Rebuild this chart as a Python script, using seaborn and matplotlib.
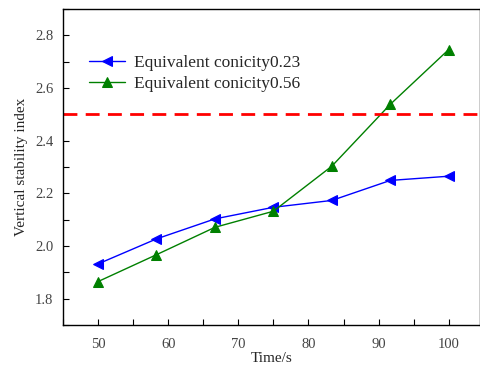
import matplotlib
matplotlib.use("Agg")
import matplotlib.pyplot as plt
import seaborn as sns
import pandas as pd
from matplotlib.ticker import MultipleLocator

time_s = [50, 58.33, 66.67, 75, 83.33, 91.67, 100]
conicity_023 = [1.932, 2.027, 2.103, 2.147, 2.173, 2.249, 2.265]
conicity_056 = [1.865, 1.967, 2.071, 2.132, 2.303, 2.538, 2.746]
labels = ["Equivalent conicity0.23", "Equivalent conicity0.56"]
threshold = 2.5

sns.set_theme(style="ticks")
plt.rcParams['font.family'] = ['Liberation Serif', 'DejaVu Serif']

fig = plt.figure(figsize=(4.81, 3.70), dpi=100)
ax = fig.add_axes([0.131, 0.1216, 0.866, 0.8541])

df1 = pd.DataFrame({"t": time_s, "v": conicity_023})
df2 = pd.DataFrame({"t": time_s, "v": conicity_056})
sns.lineplot(data=df1, x="t", y="v", ax=ax, color="#0000ff", marker="<",
             markersize=7, markeredgecolor="#0000ff", linewidth=1.0, label=labels[0])
sns.lineplot(data=df2, x="t", y="v", ax=ax, color="#008000", marker="^",
             markersize=6.5, markeredgecolor="#008000", linewidth=1.0, label=labels[1])
ax.axhline(threshold, color="#ff0000", linestyle=(0, (5, 3)), linewidth=2.0)

ax.set_xlim(45, 104.4)
ax.set_ylim(1.7, 2.9)
ax.xaxis.set_major_locator(MultipleLocator(10))
ax.xaxis.set_minor_locator(MultipleLocator(5))
ax.yaxis.set_major_locator(MultipleLocator(0.2))
ax.yaxis.set_minor_locator(MultipleLocator(0.1))
ax.tick_params(which="both", direction="in", length=4, width=0.8, labelsize=10.5,
               colors="black", labelcolor="#444444")
ax.tick_params(axis="x", which="both", pad=9)
ax.tick_params(axis="y", which="both", pad=7)
ax.tick_params(axis="both", which="both", top=False, right=False)
for s in ax.spines.values():
    s.set_linewidth(1.0)
    s.set_color("black")
ax.set_xlabel("Time/s", fontsize=11)
ax.set_ylabel("Vertical stability index", fontsize=11)
ax.xaxis.labelpad = 1
ax.yaxis.labelpad = 5
leg = ax.legend(loc="upper left", bbox_to_anchor=(0.045, 0.878), frameon=False,
                fontsize=12.5, handlelength=2.1, handletextpad=0.5, borderaxespad=0, labelspacing=0.3)
fig.savefig("out.png", dpi=100)
